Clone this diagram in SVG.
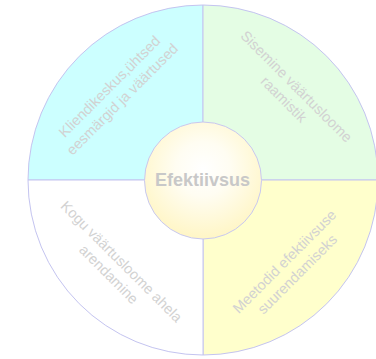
<svg xmlns="http://www.w3.org/2000/svg" width="376" height="359" viewBox="0 0 376 359">
<defs>
<radialGradient id="core" cx="50%" cy="40%" r="58%">
<stop offset="0" stop-color="#ffffff"/>
<stop offset="0.4" stop-color="#fffdf2"/>
<stop offset="1" stop-color="#fff6c8"/>
</radialGradient>
<style>
.q{stroke:#c4c4f0;stroke-width:1}
.lbl{font-family:"Liberation Sans",Arial,sans-serif;font-size:14.5px;fill:#d2d2d2;text-anchor:middle}
.ctr{font-family:"Liberation Sans",Arial,sans-serif;font-size:18px;font-weight:bold;fill:#c8c8c8;text-anchor:middle}
</style>
</defs>
<rect width="376" height="359" fill="#ffffff"/>
<g id="q-tl">
<path class="q" d="M203 180 L28 180 A175 175 0 0 1 203 5 Z" fill="#ccffff"/>
<text class="lbl" transform="translate(115.5 92.5) rotate(-45)"><tspan x="0" y="-3.5">Kliendikeskus,ühtsed</tspan><tspan x="0" y="14.5">eesmärgid ja väärtused</tspan></text>
</g>
<g id="q-tr">
<path class="q" d="M203 180 L203 5 A175 175 0 0 1 378 180 Z" fill="#e4fde4"/>
<text class="lbl" transform="translate(290.5 92.5) rotate(45)"><tspan x="0" y="-3.5">Sisemine väärtusloome</tspan><tspan x="0" y="14.5">raamistik</tspan></text>
</g>
<g id="q-br">
<path class="q" d="M203 180 L378 180 A175 175 0 0 1 203 355 Z" fill="#ffffcc"/>
<text class="lbl" transform="translate(290.5 267.5) rotate(-45)"><tspan x="0" y="-3.5">Meetodid efektiivsuse</tspan><tspan x="0" y="14.5">suurendamiseks</tspan></text>
</g>
<g id="q-bl">
<path class="q" d="M203 180 L203 355 A175 175 0 0 1 28 180 Z" fill="#ffffff"/>
<text class="lbl" transform="translate(115.5 267.5) rotate(45)"><tspan x="0" y="-3.5">Kogu väärtusloome ahela</tspan><tspan x="0" y="14.5">arendamine</tspan></text>
</g>
<g id="center">
<circle cx="203" cy="180.5" r="58.5" fill="url(#core)" stroke="#c8c8f0" stroke-width="1"/>
<text class="ctr" x="202.5" y="186">Efektiivsus</text>
</g>
</svg>
